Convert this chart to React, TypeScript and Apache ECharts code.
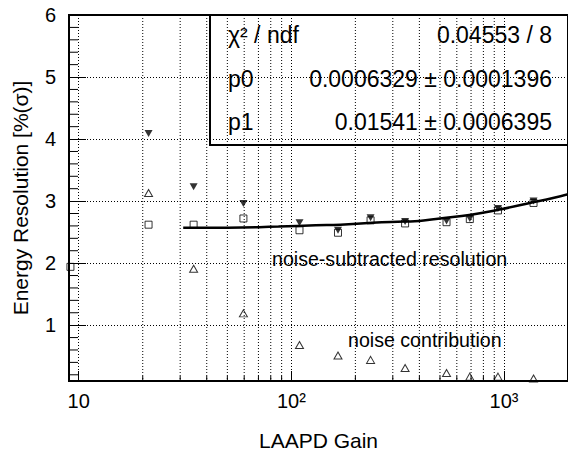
import React, { useEffect, useRef } from 'react';
import * as echarts from 'echarts';

// LAAPD gain values of the measured points
const gains = [21.3, 34.7, 59.5, 109.2, 165.7, 235.8, 342.7, 536.7, 690.7, 937, 1377];
// total resolution (filled down-triangles)
const totalRes = [4.09, 3.23, 2.96, 2.65, 2.53, 2.73, 2.67, 2.68, 2.72, 2.88, 3.0];
// noise-subtracted resolution (open squares)
const subGains = [9.14, 21.3, 34.7, 59.5, 109.2, 165.7, 235.8, 342.7, 536.7, 690.7, 937, 1377];
const subtractedRes = [1.94, 2.62, 2.62, 2.72, 2.53, 2.49, 2.69, 2.64, 2.66, 2.71, 2.85, 2.97];
// noise contribution (open triangles)
const noiseRes = [3.13, 1.91, 1.19, 0.68, 0.51, 0.44, 0.31, 0.23, 0.17, 0.17, 0.14];
// fit curve
const fitGains = [31, 50, 87, 130, 170, 240, 340, 400, 500, 700, 940, 1370, 1700, 2000];
const fitRes = [2.57, 2.57, 2.59, 2.61, 2.62, 2.65, 2.67, 2.68, 2.72, 2.78, 2.86, 2.98, 3.05, 3.11];

// axis furniture
const xMajorLabels: Record<number, string> = { 1: '10', 2: '10\u00B2', 3: '10\u00B3' };
const xMinorGrid = [20, 30, 40, 50, 60, 70, 80, 90, 200, 300, 400, 500, 600, 700, 800, 900];
const yMinorTicks = [
  0.2, 0.4, 0.6, 0.8, 1.2, 1.4, 1.6, 1.8, 2.2, 2.4, 2.6, 2.8, 3.2, 3.4, 3.6, 3.8,
  4.2, 4.4, 4.6, 4.8, 5.2, 5.4, 5.6, 5.8,
];

// stats box
const statNames = ['\u03C7\u00B2 / ndf', 'p0', 'p1'];
const statValues = ['0.04553 / 8', '0.0006329 \u00B1 0.0001396', '0.01541 \u00B1 0.0006395'];

const FONT = '"Liberation Sans", Arial, Helvetica, sans-serif';

export default function App() {
  const ref = useRef<HTMLDivElement>(null);
  useEffect(() => {
    if (!ref.current) return;
    const chart = echarts.init(ref.current, null, { renderer: 'svg' });
    const dotted = { color: '#000', width: 1, type: [1, 2] as any };
    const rowY = [35, 79, 122];
    const graphic: any[] = [
      {
        type: 'rect',
        shape: { x: 210, y: 15, width: 400, height: 130 },
        style: { fill: 'none', stroke: '#000', lineWidth: 2 },
        z: 10,
      },
    ];
    statNames.forEach((t, i) => {
      graphic.push({
        type: 'text',
        x: 228,
        y: rowY[i],
        z: 10,
        style: { text: t, fontSize: 23, fontFamily: FONT, fill: '#000', align: 'left', verticalAlign: 'middle' },
      });
      graphic.push({
        type: 'text',
        x: 552,
        y: rowY[i],
        z: 10,
        style: { text: statValues[i], fontSize: 23, fontFamily: FONT, fill: '#000', align: 'right', verticalAlign: 'middle' },
      });
    });
    graphic.push({
      type: 'text', x: 272, y: 259, z: 10,
      style: { text: 'noise-subtracted resolution', fontSize: 19.6, fontFamily: FONT, fill: '#000', align: 'left', verticalAlign: 'middle' },
    });
    graphic.push({
      type: 'text', x: 348, y: 340, z: 10,
      style: { text: 'noise contribution', fontSize: 19.6, fontFamily: FONT, fill: '#000', align: 'left', verticalAlign: 'middle' },
    });

    const openStyle = { color: 'rgba(0,0,0,0)', borderColor: '#000', borderWidth: 1 };

    chart.setOption({
      animation: false,
      backgroundColor: '#fff',
      grid: { left: 69, right: -2, top: 15, bottom: 73, show: true, borderColor: '#000', borderWidth: 2 },
      xAxis: {
        type: 'log',
        logBase: 10,
        min: 9,
        max: 2000,
        name: 'LAAPD Gain',
        nameLocation: 'middle',
        nameGap: 49,
        nameTextStyle: { fontSize: 21, fontFamily: FONT, color: '#000' },
        axisLine: { show: true, onZero: false, lineStyle: { color: '#000', width: 2 } },
        axisTick: { show: true, inside: true, length: 10, lineStyle: { color: '#000', width: 1 } },
        axisLabel: {
          margin: 10,
          fontSize: 20,
          fontFamily: FONT,
          color: '#000',
          showMinLabel: false,
          showMaxLabel: false,
          formatter: (v: number) => {
            const e = Math.log10(v);
            const r = Math.round(e);
            if (Math.abs(e - r) > 1e-6) return '';
            return xMajorLabels[r] ?? '';
          },
        },
        splitLine: { show: true, lineStyle: dotted },
      },
      yAxis: {
        type: 'value',
        min: 0.1,
        max: 6,
        splitNumber: 6,
        minInterval: 1,
        maxInterval: 1,
        name: 'Energy Resolution [%(\u03C3)]',
        nameLocation: 'middle',
        nameGap: 38,
        nameTextStyle: { fontSize: 21, fontFamily: FONT, color: '#000' },
        axisLine: { show: true, onZero: false, lineStyle: { color: '#000', width: 2 } },
        axisTick: { show: true, inside: true, length: 17, lineStyle: { color: '#000', width: 1 } },
        axisLabel: {
          margin: 13,
          fontSize: 20,
          fontFamily: FONT,
          color: '#000',
          showMinLabel: false,
          formatter: (v: number) => (Math.abs(v - Math.round(v)) < 1e-6 && v >= 1 ? String(Math.round(v)) : ''),
        },
        splitLine: { show: true, lineStyle: dotted },
      },
      graphic,
      series: [
        {
          type: 'custom',
          silent: true,
          z: 1,
          data: xMinorGrid.map((v) => [v, 0.1]),
          encode: { x: 0, y: 1 },
          renderItem: (_p: any, api: any) => {
            const v = api.value(0);
            const top = api.coord([v, 6]);
            const bot = api.coord([v, 0.1]);
            return {
              type: 'group',
              children: [
                {
                  type: 'line',
                  shape: { x1: top[0], y1: top[1], x2: bot[0], y2: bot[1] },
                  style: { stroke: '#000', lineWidth: 1, lineDash: [1, 2] },
                },
                {
                  type: 'line',
                  shape: { x1: bot[0], y1: bot[1], x2: bot[0], y2: bot[1] - 5 },
                  style: { stroke: '#000', lineWidth: 1 },
                },
              ],
            };
          },
        },
        {
          type: 'custom',
          silent: true,
          z: 1,
          data: yMinorTicks.map((v) => [9, v]),
          encode: { x: 0, y: 1 },
          renderItem: (_p: any, api: any) => {
            const p = api.coord([9, api.value(1)]);
            return {
              type: 'line',
              shape: { x1: p[0], y1: p[1], x2: p[0] + 9, y2: p[1] },
              style: { stroke: '#000', lineWidth: 1 },
            };
          },
        },
        {
          name: 'total',
          type: 'scatter',
          z: 3,
          symbol: 'triangle',
          symbolRotate: 180,
          symbolSize: [8, 7],
          itemStyle: { color: '#000' },
          data: gains.map((g, i) => [g, totalRes[i]]),
        },
        {
          name: 'noise-subtracted',
          type: 'scatter',
          z: 3,
          symbol: 'rect',
          symbolSize: 7,
          itemStyle: openStyle,
          data: subGains.map((g, i) => [g, subtractedRes[i]]),
        },
        {
          name: 'noise',
          type: 'scatter',
          z: 3,
          symbol: 'triangle',
          symbolSize: [8, 7],
          itemStyle: openStyle,
          data: gains.map((g, i) => [g, noiseRes[i]]),
        },
        {
          name: 'fit',
          type: 'line',
          z: 4,
          smooth: true,
          showSymbol: false,
          symbol: 'none',
          lineStyle: { color: '#000', width: 2.5 },
          data: fitGains.map((g, i) => [g, fitRes[i]]),
        },
      ],
    });
    return () => chart.dispose();
  }, []);
  return <div ref={ref} style={{ position: 'fixed', left: 0, top: 0, width: 568, height: 456 }} />;
}
